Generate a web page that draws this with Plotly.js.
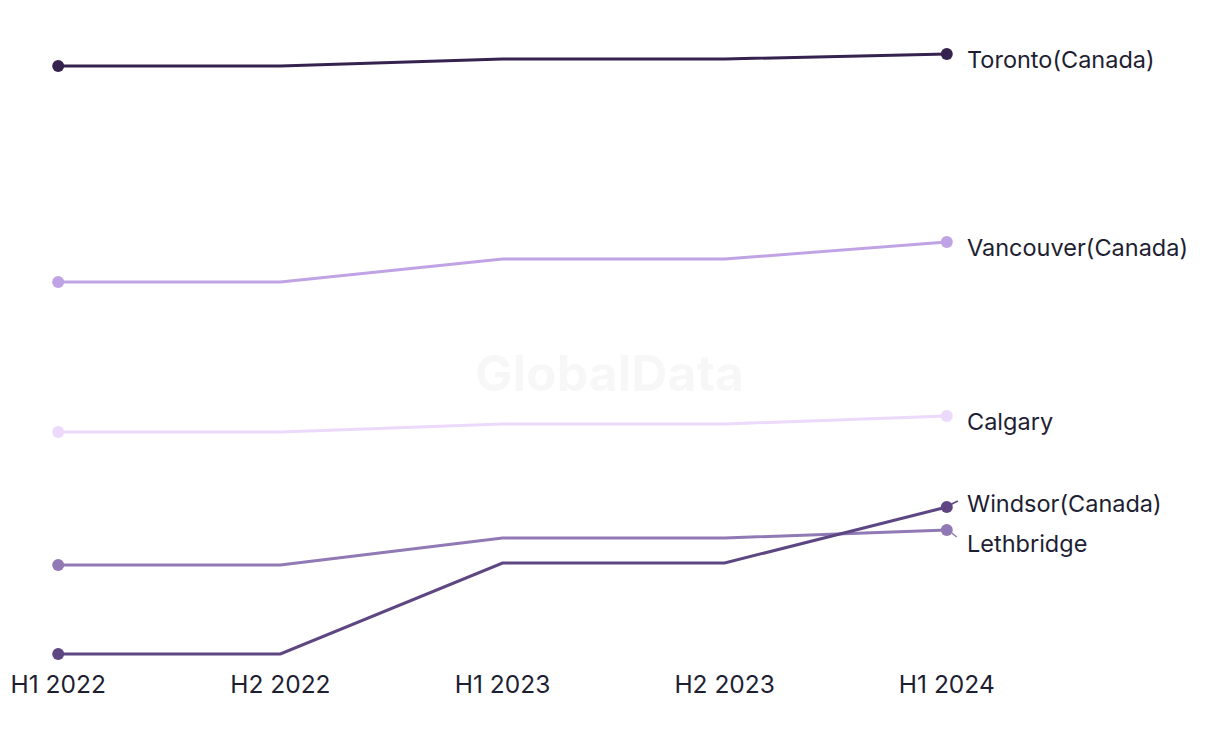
<!DOCTYPE html>
<html>
<head>
<meta charset="utf-8">
<script src="https://cdn.plot.ly/plotly-3.0.1.min.js"></script>
<style>html,body{margin:0;padding:0;background:#fff;}#chart{width:1220px;height:744px;}</style>
</head>
<body>
<div id="chart"></div>
<script>
const periods = ["H1 2022", "H2 2022", "H1 2023", "H2 2023", "H1 2024"];
const cities = ["Toronto(Canada)", "Vancouver(Canada)", "Calgary", "Windsor(Canada)", "Lethbridge"];
const toronto = [634, 634, 641, 641, 646];
const vancouver = [418, 418, 441, 441, 458];
const calgary = [268, 268, 276, 276, 284];
const windsor = [46, 46, 137, 137, 193];
const lethbridge = [135, 135, 162, 162, 170];

const series = [toronto, vancouver, calgary, windsor, lethbridge];
const colors = ["#35224f", "#c0a3e5", "#ecd9fb", "#5e4683", "#9079b4"];
const labelShift = [-5, -5, -5, 4, -13];
const textColor = "#1e1e32";
const fontFam = "Inter, 'Noto Sans', sans-serif";
const xIdx = periods.map((p, i) => i);
const last = xIdx.length - 1;

const order = [2, 1, 4, 3, 0];
const traces = [];
order.forEach(k => {
  traces.push({
    x: xIdx, y: series[k], name: cities[k],
    type: "scatter", mode: "lines",
    line: {color: colors[k], width: 3},
    hoverinfo: "x+y+name"
  });
});
order.forEach(k => {
  traces.push({
    x: [xIdx[0], xIdx[last]], y: [series[k][0], series[k][last]], name: cities[k],
    type: "scatter", mode: "markers",
    marker: {color: colors[k], size: 12, opacity: 1, line: {width: 0}},
    hoverinfo: "x+y+name"
  });
});

const annotations = cities.map((c, k) => ({
  x: last, y: series[k][last], xref: "x", yref: "y",
  text: c, showarrow: false, xanchor: "left", yanchor: "middle",
  xshift: 18, yshift: labelShift[k],
  font: {family: fontFam, size: 23.5, color: textColor}
}));
annotations.push({
  x: 0.615, y: 0.469, xref: "paper", yref: "paper",
  text: "<b>GlobalData</b>", showarrow: false,
  font: {family: fontFam, size: 50, color: "rgba(0,0,0,0.032)"}
});

const shapes = [
  {k: 3, x0: 3, x1: 11, y0: 2, y1: 6},
  {k: 4, x0: 5, x1: 10, y0: -3, y1: -7}
].map(s => ({
  type: "line", xref: "x", yref: "y",
  xsizemode: "pixel", ysizemode: "pixel",
  xanchor: last, yanchor: series[s.k][last],
  x0: s.x0, x1: s.x1, y0: s.y0, y1: s.y1,
  line: {color: colors[s.k], width: 1.5}
}));

const layout = {
  width: 1220, height: 744,
  margin: {l: 36, r: 251, t: 44, b: 80},
  paper_bgcolor: "#ffffff", plot_bgcolor: "#ffffff",
  showlegend: false,
  xaxis: {
    range: [-0.1, last + 0.1], tickmode: "array", tickvals: xIdx, ticktext: periods,
    showgrid: false, zeroline: false, showline: false,
    ticks: "", ticklen: 0, ticklabelstandoff: 3,
    tickfont: {family: fontFam, size: 24.5, color: textColor},
    fixedrange: true
  },
  yaxis: {
    range: [36, 656], showgrid: false, zeroline: false, showline: false,
    showticklabels: false, ticks: "", fixedrange: true
  },
  annotations: annotations,
  shapes: shapes
};

Plotly.newPlot("chart", traces, layout, {displayModeBar: false, responsive: false});
</script>
</body>
</html>
